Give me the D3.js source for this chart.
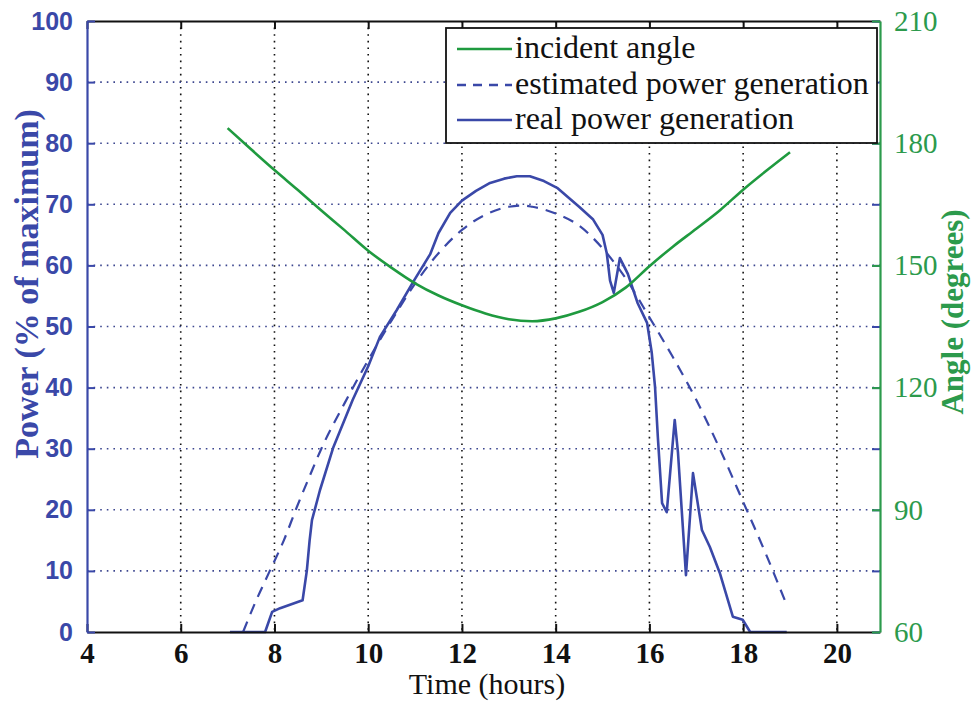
<!DOCTYPE html>
<html><head><meta charset="utf-8">
<script src="https://cdn.jsdelivr.net/npm/d3@7"></script>
<style>body{margin:0;background:#fff}svg{display:block}
.serif{font-family:"Liberation Serif","Times New Roman",Times,"Tinos",serif}
.sans{font-family:"Liberation Sans",Arial,Helvetica,"Arimo",sans-serif}
</style>
</head><body>
<svg id="c" width="971" height="702"></svg>
<script>
// ---- data ----
const xTicks = [4,6,8,10,12,14,16,18,20];
const leftTicks = [0,10,20,30,40,50,60,70,80,90,100];
const rightTicks = [60,90,120,150,180,210];
const legendLabels = ["incident angle","estimated power generation","real power generation"];

const angleT = [7.0,7.5,8.0,8.5,9.0,9.5,10.0,10.5,11.0,11.5,12.0,12.5,13.0,13.5,14.0,14.5,15.0,15.5,16.0,16.5,17.0,17.5,18.0,18.5,19.0];
const angleV = [183.7,178.5,173.4,168.5,163.5,158.6,153.6,149.4,145.6,142.6,140.2,138.2,136.8,136.3,137.0,138.6,141.0,144.6,149.8,154.6,159.0,163.5,168.6,173.3,177.8];

const estT = [7.33,7.6,7.9,8.2,8.48,8.75,9.0,9.5,10.0,10.5,11.0,11.5,12.0,12.5,13.0,13.3,13.5,14.0,14.5,15.0,15.5,16.0,16.5,17.0,17.5,18.0,18.5,18.93];
const estV = [0,5,10,15,20.5,25.5,30,37.5,44.5,51,57,62,65.8,68.3,69.6,69.8,69.6,68.5,66.5,62.8,57.8,51.5,45,38,30,21.3,12.5,4.4];

const realT = [7.05,7.8,7.95,8.12,8.6,8.69,8.75,8.8,8.97,9.25,9.67,10.0,10.25,10.61,10.96,11.32,11.5,11.75,12.0,12.3,12.6,12.9,13.17,13.45,13.75,14.03,14.5,14.8,15.0,15.09,15.16,15.24,15.37,15.54,15.75,15.95,16.05,16.12,16.18,16.27,16.37,16.54,16.61,16.78,16.93,17.12,17.29,17.5,17.78,17.99,18.15,18.93];
const realV = [0,0,3.3,3.9,5.2,10,15,18.3,23.2,30.1,38,43.5,48.3,52.7,57.3,61.8,65.3,68.6,70.6,72.2,73.5,74.2,74.6,74.6,73.8,72.7,69.6,67.5,65,62,57.5,55.5,61.2,58.6,53.8,50.6,45.7,40.1,31.9,21.1,19.6,34.7,29.3,9.3,26,16.7,13.9,9.7,2.5,2.0,0,0];

// ---- layout ----
const BLUE = "#3a48a8", GREEN = "#1f9a3f", RGREEN = "#2c9a4c";
const L = 87, R = 880, T = 21, B = 632;
const svg = d3.select("#c");
const x = d3.scaleLinear().domain([4, 20.92]).range([L, R]);
const yL = d3.scaleLinear().domain([0, 100]).range([B, T]);
const yR = d3.scaleLinear().domain([60, 210]).range([B, T]);

// grid
const g = svg.append("g");
g.selectAll(".vg").data(xTicks.filter(d => d > 4)).join("line")
  .attr("x1", d => x(d)).attr("x2", d => x(d)).attr("y1", T).attr("y2", B)
  .attr("stroke", "#111").attr("stroke-width", 1.6).attr("stroke-dasharray", "1.6,5");
g.selectAll(".hg").data(leftTicks.filter(d => d > 0 && d < 100)).join("line")
  .attr("x1", L).attr("x2", R).attr("y1", d => yL(d)).attr("y2", d => yL(d))
  .attr("stroke", "#3d478f").attr("stroke-width", 1.6).attr("stroke-dasharray", "1.6,5");

// lines
const lineL = d3.line().x(d => x(d[0])).y(d => yL(d[1]));
const smoothL = d3.line().x(d => x(d[0])).y(d => yL(d[1])).curve(d3.curveMonotoneX);
const lineR = d3.line().x(d => x(d[0])).y(d => yR(d[1])).curve(d3.curveMonotoneX);
svg.append("path").attr("d", smoothL(d3.zip(estT, estV)))
  .attr("fill", "none").attr("stroke", BLUE).attr("stroke-width", 2.2).attr("stroke-dasharray", "11,8");
svg.append("path").attr("d", lineL(d3.zip(realT, realV)))
  .attr("fill", "none").attr("stroke", BLUE).attr("stroke-width", 2.6).attr("stroke-linejoin", "round");
svg.append("path").attr("d", lineR(d3.zip(angleT, angleV)))
  .attr("fill", "none").attr("stroke", GREEN).attr("stroke-width", 2.6);

// axes
const axB = d3.axisBottom(x).tickValues(xTicks).tickSizeInner(-8).tickSizeOuter(0).tickPadding(10);
const gB = svg.append("g").attr("transform", `translate(0,${B})`).call(axB);
gB.attr("font-family", null).attr("font-size", null);
gB.select(".domain").attr("stroke", "#111").attr("stroke-width", 2.2);
gB.selectAll(".tick line").attr("stroke", "#111").attr("stroke-width", 2);
gB.selectAll("text").attr("class", "serif").attr("fill", "#111")
  .style("font-weight", "bold").style("font-size", "29px");

const axT = d3.axisTop(x).tickValues(xTicks).tickSizeInner(-8).tickSizeOuter(0).tickFormat("");
const gT = svg.append("g").attr("transform", `translate(0,${T})`).call(axT);
gT.select(".domain").attr("stroke", "#111").attr("stroke-width", 2.2);
gT.selectAll(".tick line").attr("stroke", "#111").attr("stroke-width", 2);

const axRblue = d3.axisLeft(yL).tickValues(leftTicks).tickSizeInner(8).tickSizeOuter(0).tickFormat("");
const gRb = svg.append("g").attr("transform", `translate(${R},0)`).call(axRblue);
gRb.select(".domain").remove();
gRb.selectAll(".tick line").attr("stroke", BLUE).attr("stroke-width", 2);

const axRt = d3.axisRight(yR).tickValues(rightTicks).tickSizeInner(-8).tickSizeOuter(0).tickPadding(14);
const gR = svg.append("g").attr("transform", `translate(${R},0)`).call(axRt);
gR.attr("font-family", null).attr("font-size", null);
gR.select(".domain").attr("stroke", RGREEN).attr("stroke-width", 2.2);
gR.selectAll(".tick line").attr("stroke", RGREEN).attr("stroke-width", 2);
gR.selectAll("text").attr("class", "serif").attr("fill", RGREEN).style("font-size", "29px");

const axL = d3.axisLeft(yL).tickValues(leftTicks).tickSizeInner(-8).tickSizeOuter(0).tickPadding(14);
const gL = svg.append("g").attr("transform", `translate(${L},0)`).call(axL);
gL.attr("font-family", null).attr("font-size", null);
gL.select(".domain").attr("stroke", BLUE).attr("stroke-width", 2.2);
gL.selectAll(".tick line").attr("stroke", BLUE).attr("stroke-width", 2);
gL.selectAll("text").attr("class", "sans").attr("fill", BLUE)
  .style("font-weight", "bold").style("font-size", "25px");

// axis titles
svg.append("text").attr("class", "serif").attr("x", 487).attr("y", 694).attr("text-anchor", "middle")
  .style("font-size", "30px").attr("fill", "#111").text("Time (hours)");
svg.append("text").attr("class", "serif").attr("transform", "translate(38,284) rotate(-90)").attr("text-anchor", "middle")
  .style("font-weight", "bold").style("font-size", "34px")
  .attr("fill", BLUE).text("Power (% of maximum)");
svg.append("text").attr("class", "serif").attr("transform", "translate(963,312) rotate(-90)").attr("text-anchor", "middle")
  .style("font-weight", "bold").style("font-size", "31px")
  .attr("fill", RGREEN).text("Angle (degrees)");

// legend
const lg = svg.append("g");
lg.append("rect").attr("x", 446).attr("y", 28).attr("width", 431).attr("height", 115)
  .attr("fill", "#fff").attr("stroke", "#111").attr("stroke-width", 1.8);
const rowsY = [49, 85, 120];
const styles = [{c: GREEN, d: null}, {c: BLUE, d: "9,7"}, {c: BLUE, d: null}];
legendLabels.forEach((t, i) => {
  lg.append("line").attr("x1", 457).attr("x2", 512).attr("y1", rowsY[i]).attr("y2", rowsY[i])
    .attr("stroke", styles[i].c).attr("stroke-width", 2.6).attr("stroke-dasharray", styles[i].d);
  lg.append("text").attr("class", "serif").attr("x", 515).attr("y", rowsY[i] + 9).text(t)
    .style("font-size", "32px").attr("fill", "#111");
});
</script>
</body></html>
